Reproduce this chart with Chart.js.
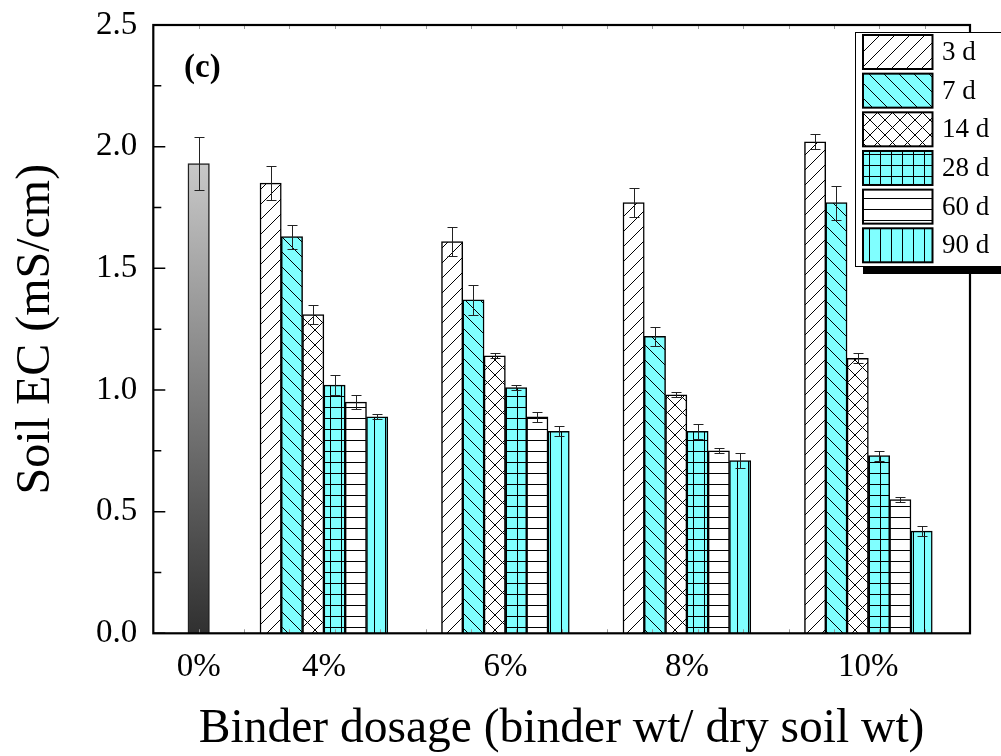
<!DOCTYPE html>
<html>
<head>
<meta charset="utf-8">
<script src="https://cdn.jsdelivr.net/npm/chart.js@4.4.1/dist/chart.umd.min.js"></script>
<style>
  html, body { margin: 0; padding: 0; background: #fff; }
</style>
</head>
<body>
<canvas id="ecChart" width="1001" height="756"></canvas>
<script>
// dosage groups on the x axis (group centres in axis units, axis runs 0..4.5)
const dosageLabels = ['0%', '4%', '6%', '8%', '10%'];
const dosageX = [0.25, 0.94, 1.94, 2.94, 3.94];
const curingLabels = ['3 d', '7 d', '14 d', '28 d', '60 d', '90 d'];

// untreated soil
const controlEC  = [1.93];
const controlErr = [0.11];

// treated soil, one value per dosage 4/6/8/10 %
const ec3d   = [1.85, 1.61, 1.77, 2.02];
const err3d  = [0.07, 0.06, 0.06, 0.03];
const ec7d   = [1.63, 1.37, 1.22, 1.77];
const err7d  = [0.05, 0.06, 0.04, 0.07];
const ec14d  = [1.31, 1.14, 0.98, 1.13];
const err14d = [0.04, 0.01, 0.01, 0.02];
const ec28d  = [1.02, 1.01, 0.83, 0.73];
const err28d = [0.04, 0.01, 0.03, 0.02];
const ec60d  = [0.95, 0.89, 0.75, 0.55];
const err60d = [0.03, 0.02, 0.01, 0.01];
const ec90d  = [0.89, 0.83, 0.71, 0.42];
const err90d = [0.01, 0.02, 0.03, 0.02];

const yTicks = [0, 0.5, 1.0, 1.5, 2.0, 2.5];

const FONT = '"Liberation Serif", "Times New Roman", serif';
const CYAN = '#80ffff';

// hatch fills like Origin's patterns
function hatch(bg, size, draw){
  const c = document.createElement('canvas');
  c.width = c.height = size;
  const g = c.getContext('2d');
  g.fillStyle = bg; g.fillRect(0, 0, size, size);
  g.strokeStyle = '#000'; g.lineWidth = 1;
  g.beginPath(); draw(g, size); g.stroke();
  return g.createPattern(c, 'repeat');
}
const fwd = (g, s) => { g.moveTo(-1, s + 1); g.lineTo(s + 1, -1); g.moveTo(-1, 1); g.lineTo(1, -1); g.moveTo(s - 1, s + 1); g.lineTo(s + 1, s - 1); };
const back = (g, s) => { g.moveTo(-1, -1); g.lineTo(s + 1, s + 1); g.moveTo(s - 1, -1); g.lineTo(s + 1, 1); g.moveTo(-1, s - 1); g.lineTo(1, s + 1); };
const fills = [
  hatch('#fff', 15, fwd),
  hatch(CYAN, 15, back),
  hatch('#fff', 15, (g, s) => { fwd(g, s); back(g, s); }),
  hatch(CYAN, 11, (g, s) => { g.moveTo(0.5, 0); g.lineTo(0.5, s); g.moveTo(0, 0.5); g.lineTo(s, 0.5); }),
  hatch('#fff', 11, (g, s) => { g.moveTo(0, 0.5); g.lineTo(s, 0.5); }),
  hatch(CYAN, 11, (g, s) => { g.moveTo(0.5, 0); g.lineTo(0.5, s); })
];

const seriesEC  = [ec3d, ec7d, ec14d, ec28d, ec60d, ec90d];
const seriesErr = [err3d, err7d, err14d, err28d, err60d, err90d];

const datasets = [{
  label: '0%',
  data: controlEC.map(v => ({ x: dosageX[0], y: v })),
  err: controlErr,
  grouped: false,
  barThickness: 21.5,
  borderColor: '#222',
  borderWidth: 1.5,
  backgroundColor(ctx){
    const chart = ctx.chart, y = chart.scales.y;
    if (!chart.chartArea || !y || ctx.type !== 'data') return '#888';
    const top = y.getPixelForValue(ctx.raw.y), bot = y.getPixelForValue(0);
    if (!isFinite(top) || !isFinite(bot)) return '#888';
    const g = chart.ctx.createLinearGradient(0, top, 0, bot);
    g.addColorStop(0, '#c8c8c8'); g.addColorStop(1, '#303030');
    return g;
  }
}];
curingLabels.forEach((lab, k) => {
  datasets.push({
    label: lab,
    data: seriesEC[k].map((v, i) => ({ x: dosageX[i + 1], y: v })),
    err: seriesErr[k],
    barThickness: 21.3,
    borderColor: '#000',
    borderWidth: 1.5,
    backgroundColor: fills[k]
  });
});

// error bars drawn on top of the bars
const errorBars = {
  id: 'errorBars',
  afterDatasetsDraw(chart){
    const { ctx } = chart, y = chart.scales.y;
    ctx.save();
    ctx.strokeStyle = '#222'; ctx.lineWidth = 1;
    chart.data.datasets.forEach((ds, di) => {
      chart.getDatasetMeta(di).data.forEach((bar, i) => {
        const v = ds.data[i].y, e = ds.err[i];
        const x = Math.round(bar.x) + 0.5;
        const t = Math.round(y.getPixelForValue(v + e)) + 0.5;
        const b = Math.round(y.getPixelForValue(v - e)) + 0.5;
        ctx.beginPath();
        ctx.moveTo(x, t); ctx.lineTo(x, b);
        ctx.moveTo(x - 5, t); ctx.lineTo(x + 5, t);
        ctx.moveTo(x - 5, b); ctx.lineTo(x + 5, b);
        ctx.stroke();
      });
    });
    ctx.restore();
  }
};

// Origin-style frame with inward ticks, legend box, panel tag
const frame = {
  id: 'frame',
  afterDraw(chart){
    const { ctx, chartArea: a } = chart, y = chart.scales.y, x = chart.scales.x;
    ctx.save();
    ctx.strokeStyle = '#000';
    ctx.lineWidth = 1.5;
    ctx.beginPath();
    for (let i = 0; i < yTicks.length; i++) {
      const p = y.getPixelForValue(yTicks[i]);
      ctx.moveTo(a.left, p); ctx.lineTo(a.left + 12, p);
      if (i < yTicks.length - 1) {
        const m = y.getPixelForValue((yTicks[i] + yTicks[i + 1]) / 2);
        ctx.moveTo(a.left, m); ctx.lineTo(a.left + 8, m);
      }
    }
    ctx.stroke();
    ctx.strokeStyle = '#999'; ctx.lineWidth = 1;
    ctx.beginPath();
    for (let v = 0.25; v < 4.5; v += 0.25) {
      const p = Math.round(x.getPixelForValue(v)) + 0.5;
      ctx.moveTo(p, a.bottom); ctx.lineTo(p, a.bottom - 4);
      ctx.moveTo(p, a.top); ctx.lineTo(p, a.top + 4);
    }
    ctx.stroke();
    ctx.strokeStyle = '#000'; ctx.lineWidth = 2.2;
    ctx.strokeRect(a.left, a.top, a.right - a.left, a.bottom - a.top);

    // legend
    const lx = 855, ly = 32, lw = 160, lh = 234;
    ctx.fillStyle = '#000';
    ctx.fillRect(lx + 8, ly + lh, lw, 8);
    ctx.fillStyle = '#fff';
    ctx.fillRect(lx, ly, lw, lh);
    ctx.lineWidth = 1;
    ctx.strokeRect(lx + 0.5, ly + 0.5, lw, lh);
    ctx.font = '27px ' + FONT;
    ctx.textBaseline = 'middle';
    chart.data.datasets.slice(1).forEach((ds, i) => {
      const sy = 35 + i * 38.66;
      ctx.fillStyle = ds.backgroundColor;
      ctx.fillRect(863, sy, 69.5, 34);
      ctx.lineWidth = 2;
      ctx.strokeRect(863, sy, 69.5, 34);
      ctx.fillStyle = '#000';
      ctx.fillText(ds.label, 942, sy + 18);
    });

    ctx.font = 'bold 33px ' + FONT;
    ctx.fillText('(c)', 184, 68);
    ctx.restore();
  }
};

Chart.defaults.font.family = FONT;
Chart.defaults.color = '#000';

new Chart(document.getElementById('ecChart'), {
  type: 'bar',
  data: { datasets },
  options: {
    responsive: false,
    animation: false,
    devicePixelRatio: 1,
    layout: { padding: { top: 25, right: 31, left: 0, bottom: 0 } },
    plugins: { legend: { display: false }, tooltip: { enabled: false } },
    scales: {
      x: {
        type: 'linear', min: 0, max: 4.5, offset: false,
        grid: { display: false, drawTicks: false, offset: false },
        border: { display: false },
        afterBuildTicks: s => { s.ticks = dosageX.map(v => ({ value: v })); },
        afterFit: s => { s.height = 122.7; s.paddingLeft = 0; s.paddingRight = 0; },
        ticks: {
          autoSkip: false, maxRotation: 0, padding: 14,
          font: { size: 33 },
          callback: (v, i) => dosageLabels[i]
        },
        title: {
          display: true, text: 'Binder dosage (binder wt/ dry soil wt)',
          font: { size: 47.5, lineHeight: 1.1 }, padding: { top: 0, bottom: 0 }
        }
      },
      y: {
        min: 0, max: 2.5,
        grid: { display: false, drawTicks: false },
        border: { display: false },
        afterBuildTicks: s => { s.ticks = yTicks.map(v => ({ value: v })); },
        afterFit: s => { s.width = 153.3; s.paddingTop = 0; s.paddingBottom = 0; },
        ticks: { padding: 16, font: { size: 33 }, callback: v => v.toFixed(1) },
        title: {
          display: true, text: 'Soil EC (mS/cm)',
          font: { size: 48 }, padding: { top: 8, bottom: 0 }
        }
      }
    }
  },
  plugins: [errorBars, frame]
});
</script>
</body>
</html>
